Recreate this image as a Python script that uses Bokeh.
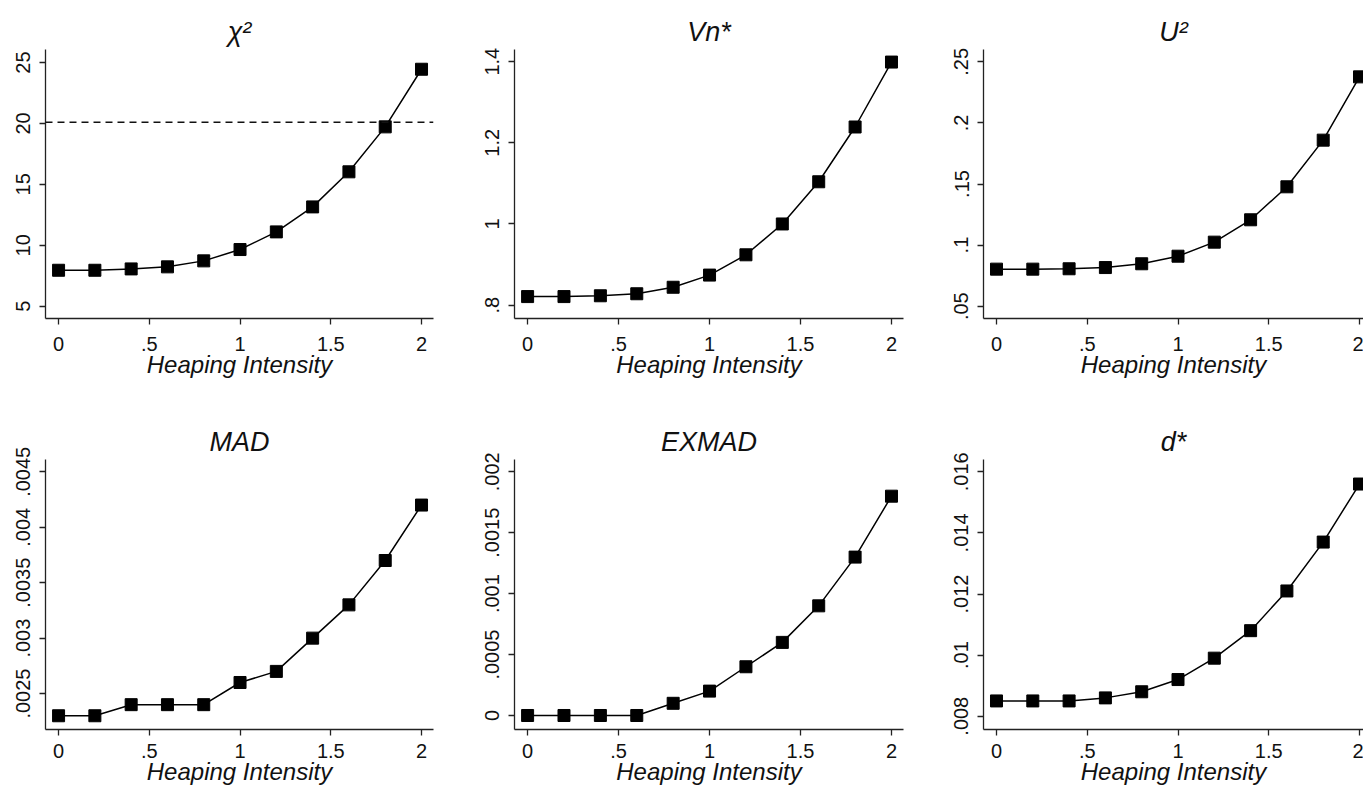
from bokeh.plotting import figure
from bokeh.models import Range1d, FixedTicker, Span
from bokeh.layouts import column, row
from bokeh.embed import file_html
from bokeh.resources import INLINE
from bokeh.core.properties import value

# ---------------- data ----------------
heaping = [0.0, 0.2, 0.4, 0.6, 0.8, 1.0, 1.2, 1.4, 1.6, 1.8, 2.0]
chi2 = [7.95, 7.95, 8.06, 8.23, 8.72, 9.65, 11.10, 13.15, 16.03, 19.72, 24.45]
vn_star = [0.821, 0.821, 0.823, 0.828, 0.844, 0.874, 0.924, 1.000, 1.104, 1.239, 1.399]
u2 = [0.0803, 0.0803, 0.0806, 0.0816, 0.0847, 0.0909, 0.1024, 0.1207, 0.1477, 0.1859, 0.2377]
mad = [0.0023, 0.0023, 0.0024, 0.0024, 0.0024, 0.0026, 0.0027, 0.0030, 0.0033, 0.0037, 0.0042]
exmad = [0.0, 0.0, 0.0, 0.0, 0.0001, 0.0002, 0.0004, 0.0006, 0.0009, 0.0013, 0.0018]
d_star = [0.0085, 0.0085, 0.0085, 0.0086, 0.0088, 0.0092, 0.0099, 0.0108, 0.0121, 0.0137, 0.0156]
chi2_critical = 20.09

page_title = "Simulation Results for Case III"
x_axis_title = "Heaping Intensity"
panel_titles = ["\u03c7\u00b2", "Vn*", "U\u00b2", "MAD", "EXMAD", "d*"]

x_ticks = [0, 0.5, 1, 1.5, 2]
x_tick_labels = ["0", ".5", "1", "1.5", "2"]
chi2_ticks = [5, 10, 15, 20, 25]
chi2_tick_labels = ["5", "10", "15", "20", "25"]
vn_ticks = [0.8, 1.0, 1.2, 1.4]
vn_tick_labels = [".8", "1", "1.2", "1.4"]
u2_ticks = [0.05, 0.1, 0.15, 0.2, 0.25]
u2_tick_labels = [".05", ".1", ".15", ".2", ".25"]
mad_ticks = [0.0025, 0.003, 0.0035, 0.004, 0.0045]
mad_tick_labels = [".0025", ".003", ".0035", ".004", ".0045"]
exmad_ticks = [0, 0.0005, 0.001, 0.0015, 0.002]
exmad_tick_labels = ["0", ".0005", ".001", ".0015", ".002"]
d_ticks = [0.008, 0.01, 0.012, 0.014, 0.016]
d_tick_labels = [".008", ".01", ".012", ".014", ".016"]

FONT = "Liberation Sans"
AX_COLOR = "#222222"


def make_panel(title, yvals, yticks, ylabels, yrange, xrange, width, height,
               mb_top, mb_bottom, mb_left, mb_right, xl_standoff, xt_standoff):
    p = figure(width=width, height=height, output_backend="svg", toolbar_location=None,
               x_range=Range1d(*xrange), y_range=Range1d(*yrange),
               min_border_top=mb_top, min_border_bottom=mb_bottom,
               min_border_left=mb_left, min_border_right=mb_right,
               background_fill_color="white", border_fill_color="white")
    p.outline_line_color = None
    p.grid.visible = False
    p.title.text = title
    p.title.align = "center"
    p.title.text_font = FONT
    p.title.text_font_style = "italic"
    p.title.text_font_size = "27px"
    p.title.text_color = "#111111"
    p.title.standoff = 5

    for ax in (p.xaxis[0], p.yaxis[0]):
        ax.axis_line_color = AX_COLOR
        ax.axis_line_width = 1.3
        ax.major_tick_line_color = AX_COLOR
        ax.major_tick_line_width = 1.3
        ax.major_tick_out = 6
        ax.major_tick_in = 0
        ax.minor_tick_line_color = None
        ax.major_label_text_font = FONT
        ax.major_label_text_font_size = "20px"
        ax.major_label_text_color = "#111111"

    p.xaxis.ticker = FixedTicker(ticks=x_ticks)
    p.xaxis.major_label_overrides = dict(zip(x_ticks, x_tick_labels))
    p.xaxis.major_label_standoff = xl_standoff
    p.xaxis.axis_label = x_axis_title
    p.xaxis.axis_label_text_font = FONT
    p.xaxis.axis_label_text_font_style = "italic"
    p.xaxis.axis_label_text_font_size = "24px"
    p.xaxis.axis_label_text_color = "#111111"
    p.xaxis.axis_label_standoff = xt_standoff

    p.yaxis.ticker = FixedTicker(ticks=yticks)
    p.yaxis.major_label_overrides = dict(zip(yticks, ylabels))
    p.yaxis.major_label_orientation = "vertical"
    p.yaxis.major_label_standoff = 9

    p.line(heaping, yvals, line_color="black", line_width=1.5)
    p.scatter(heaping, yvals, marker="square", size=12, fill_color="black",
              line_color="black")
    return p


XR = (-0.072, 2.066)
XR3 = (-0.0716, 2.022)

row1_kw = dict(height=387, mb_top=46, mb_bottom=72, xl_standoff=12, xt_standoff=-3)
row2_kw = dict(height=397, mb_top=69, mb_bottom=57, xl_standoff=8, xt_standoff=-3)

p1 = make_panel(panel_titles[0], chi2, chi2_ticks, chi2_tick_labels, (3.99, 26.07), XR,
                469, mb_left=45, mb_right=36, **row1_kw)
p1.add_layout(Span(location=chi2_critical, dimension="width", line_color="#111111",
                   line_width=1.5, line_dash="7 5"))
p2 = make_panel(panel_titles[1], vn_star, vn_ticks, vn_tick_labels, (0.767, 1.430), XR,
                469, mb_left=45, mb_right=35, **row1_kw)
p3 = make_panel(panel_titles[2], u2, u2_ticks, u2_tick_labels, (0.0399, 0.2601), XR3,
                425, mb_left=45, mb_right=0, **row1_kw)

p4 = make_panel(panel_titles[3], mad, mad_ticks, mad_tick_labels, (0.002176, 0.004611), XR,
                469, mb_left=45, mb_right=36, **row2_kw)
p5 = make_panel(panel_titles[4], exmad, exmad_ticks, exmad_tick_labels, (-0.000115, 0.002101), XR,
                469, mb_left=45, mb_right=35, **row2_kw)
p6 = make_panel(panel_titles[5], d_star, d_ticks, d_tick_labels, (0.007565, 0.016403), XR3,
                425, mb_left=45, mb_right=0, **row2_kw)

# thin strip at the very top: the page title is cut off by the window edge, as in the reference
strip = figure(width=1363, height=3, output_backend="svg", toolbar_location=None,
               x_range=Range1d(0, 1363), y_range=Range1d(0, 3),
               min_border=0, min_border_left=0, min_border_right=0,
               min_border_top=0, min_border_bottom=0)
strip.axis.visible = False
strip.grid.visible = False
strip.outline_line_color = None
strip.text(x=[780], y=[1], text=[page_title], text_font=value(FONT),
           text_font_style="bold", text_font_size="31px", text_align="center",
           text_baseline="alphabetic", text_color="#111111")

layout = column(strip, row(p1, p2, p3), row(p4, p5, p6))

open("out.html", "w").write(file_html(layout, INLINE))
